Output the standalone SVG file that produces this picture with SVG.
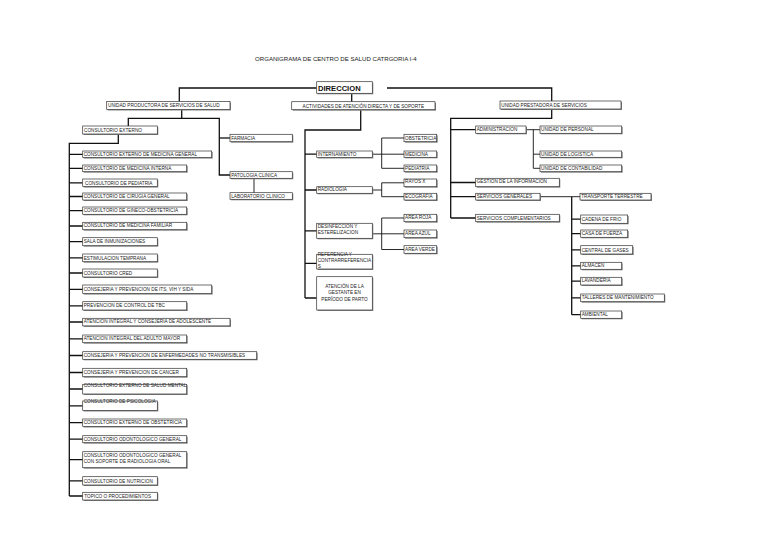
<svg xmlns="http://www.w3.org/2000/svg" width="768" height="543" viewBox="0 0 768 543">
<style>
.t{font-family:"Liberation Sans",Arial,sans-serif;font-size:4.7px;fill:#222}
.tc{text-anchor:middle}
.ttl{font-family:"Liberation Sans",Arial,sans-serif;font-size:6.1px;fill:#222}
.dir{font-family:"Liberation Sans",Arial,sans-serif;font-size:7.6px;font-weight:bold;fill:#111}
.bx{fill:#fff;stroke:#333;stroke-width:0.7}
.sh{fill:#888}
.ln{fill:none;stroke:#111;stroke-width:1.3}
.lt{fill:none;stroke:#111;stroke-width:0.9}
</style>
<rect width="768" height="543" fill="#fff"/>
<text class="ttl" x="255" y="61">ORGANIGRAMA DE CENTRO DE SALUD CATRGORIA I-4</text>

<g id="connectors">
<polyline class="ln" points="316.7,88 179.3,88 179.3,101.5"/>
<polyline class="ln" points="351.7,93.3 351.7,101.7"/>
<polyline class="ln" points="387,88 551.7,88 551.7,101"/>
<polyline class="ln" points="181.7,110 181.7,118.3"/>
<polyline class="ln" points="128.3,126 128.3,118.3 219.3,118.3 219.3,175 230,175"/>
<polyline class="ln" points="219.3,138 230,138"/>
<polyline class="lt" points="254,178.3 254,192.7"/>
<polyline class="ln" points="118.3,134 118.3,143.3 69.3,143.3 69.3,496"/>
<path class="ln" d="M69.3,154.3H82.7M69.3,168.3H82.7M69.3,182.8H82.7M69.3,196.5H82.7M69.3,210.7H82.7M69.3,226H82.7M69.3,241.7H82.7M69.3,257.8H82.7M69.3,273H82.7M69.3,289.3H82.7M69.3,305.8H82.7M69.3,322H82.7M69.3,338.8H82.7M69.3,355.5H82.7M69.3,372.5H82.7M69.3,389H82.7M69.3,405.8H82.7M69.3,422.7H82.7M69.3,439.2H82.7M69.3,459.7H82.7M69.3,480.8H82.7M69.3,496H82.7"/>
<polyline class="ln" points="360.7,110 360.7,130 305,130 305,298"/>
<path class="ln" d="M305,154.2H316.7M305,190H316.7M305,230.8H316.7M305,263.3H316.7M305,298H316.7"/>
<path class="lt" d="M372.3,154.2H404M381.7,138V168.3M381.7,138H404M381.7,168.3H404"/>
<path class="lt" d="M372.3,190H381.7M381.7,182.8V196.7M381.7,182.8H404M381.7,196.7H404"/>
<path class="lt" d="M372.3,233.8H404M381.7,218V249.5M381.7,218H404M381.7,249.5H404"/>
<polyline class="ln" points="551.7,110 551.7,118.3 450.7,118.3 450.7,218"/>
<path class="ln" d="M450.7,129.7H475.7M450.7,182.5H475.7M450.7,196.7H475.7M450.7,218H475.7"/>
<path class="lt" d="M526,129.7H540M533.3,129.7V168.3M533.3,154.2H540M533.3,168.3H540"/>
<path class="lt" d="M540,196.7H580"/>
<path class="ln" d="M571.7,196.7V314.7M571.7,219.2H580.7M571.7,233.7H580.7M571.7,249.8H580.7M571.7,265.8H580.7M571.7,281.2H580.7M571.7,297.8H580.7M571.7,314.7H580.7"/>
</g>

<g id="direccion"><rect class="sh" x="317.7" y="82.7" width="55.6" height="11.6"/><rect class="bx" x="316.7" y="81.7" width="55.6" height="11.6"/><text class="dir" x="318" y="90.8">DIRECCION</text></g>

<g id="unidad-productora"><rect class="sh" x="107.7" y="102.5" width="123.3" height="8"/><rect class="bx" x="106.7" y="101.5" width="123.3" height="8"/><text class="t" x="108" y="107.4">UNIDAD PRODUCTORA DE SERVICIOS DE SALUD</text></g>
<g id="actividades"><rect class="sh" x="292.7" y="102.7" width="143.3" height="8"/><rect class="bx" x="291.7" y="101.7" width="143.3" height="8"/><text class="t tc" x="363.3" y="107.6">ACTIVIDADES DE ATENCIÓN DIRECTA Y DE SOPORTE</text></g>
<g id="unidad-prestadora"><rect class="sh" x="501" y="102" width="121" height="8"/><rect class="bx" x="500" y="101" width="121" height="8"/><text class="t" x="501.3" y="107">UNIDAD PRESTADORA DE SERVICIOS</text></g>

<g id="consultorio-externo"><rect class="sh" x="83.7" y="127" width="74.6" height="8"/><rect class="bx" x="82.7" y="126" width="74.6" height="8"/><text class="t" x="84" y="132">CONSULTORIO EXTERNO</text></g>
<g id="farmacia"><rect class="sh" x="231" y="135.3" width="62.3" height="7.4"/><rect class="bx" x="230" y="134.3" width="62.3" height="7.4"/><text class="t" x="231.2" y="139.8">FARMACIA</text></g>
<g id="patologia"><rect class="sh" x="231" y="172.7" width="62.3" height="6.6"/><rect class="bx" x="230" y="171.7" width="62.3" height="6.6"/><text class="t" x="231.2" y="176.8">PATOLOGIA CLINICA</text></g>
<g id="laboratorio"><rect class="sh" x="231" y="193.7" width="62.3" height="6.6"/><rect class="bx" x="230" y="192.7" width="62.3" height="6.6"/><text class="t" x="231.2" y="197.8">LABORATORIO CLINICO</text></g>

<g id="c1"><rect class="sh" x="83.7" y="152" width="129" height="6.6"/><rect class="bx" x="82.7" y="151" width="129" height="6.6"/><text class="t" x="83.7" y="156">CONSULTORIO EXTERNO DE MEDICINA GENERAL</text></g>
<g id="c2"><rect class="sh" x="83.7" y="166" width="104" height="6.7"/><rect class="bx" x="82.7" y="165" width="104" height="6.7"/><text class="t" x="83.7" y="170">CONSULTORIO DE MEDICINA INTERNA</text></g>
<g id="c3"><rect class="sh" x="83.7" y="180" width="74.6" height="7.6"/><rect class="bx" x="82.7" y="179" width="74.6" height="7.6"/><text class="t" x="85" y="184.6">CONSULTORIO DE PEDIATRIA</text></g>
<g id="c4"><rect class="sh" x="83.7" y="194" width="104" height="7"/><rect class="bx" x="82.7" y="193" width="104" height="7"/><text class="t" x="83.7" y="198.2">CONSULTORIO DE CIRUGIA GENERAL</text></g>
<g id="c5"><rect class="sh" x="83.7" y="208" width="104" height="7.3"/><rect class="bx" x="82.7" y="207" width="104" height="7.3"/><text class="t" x="83.7" y="212.4">CONSULTORIO DE GINECO-OBSTETRICIA</text></g>
<g id="c6"><rect class="sh" x="83.7" y="223.3" width="104" height="7.4"/><rect class="bx" x="82.7" y="222.3" width="104" height="7.4"/><text class="t" x="83.7" y="227">CONSULTORIO DE MEDICINA FAMILIAR</text></g>
<g id="c7"><rect class="sh" x="83.7" y="238.7" width="74.6" height="8"/><rect class="bx" x="82.7" y="237.7" width="74.6" height="8"/><text class="t" x="83.7" y="243.4">SALA DE INMUNIZACIONES</text></g>
<g id="c8"><rect class="sh" x="83.7" y="255" width="74.6" height="7.7"/><rect class="bx" x="82.7" y="254" width="74.6" height="7.7"/><text class="t" x="83.7" y="259.5">ESTIMULACION TEMPRANA</text></g>
<g id="c9"><rect class="sh" x="83.7" y="270" width="74.6" height="8"/><rect class="bx" x="82.7" y="269" width="74.6" height="8"/><text class="t" x="83.7" y="274.6">CONSULTORIO CRED</text></g>
<g id="c10"><rect class="sh" x="83.7" y="286" width="129" height="8.6"/><rect class="bx" x="82.7" y="285" width="129" height="8.6"/><text class="t" x="83.7" y="290.8">CONSEJERIA Y PREVENCION DE ITS, VIH Y SIDA</text></g>
<g id="c11"><rect class="sh" x="83.7" y="302.7" width="104" height="8.3"/><rect class="bx" x="82.7" y="301.7" width="104" height="8.3"/><text class="t" x="83.7" y="307.4">PREVENCION DE CONTROL DE TBC</text></g>
<g id="c12"><rect class="sh" x="83.7" y="319.3" width="147.3" height="7.6"/><rect class="bx" x="82.7" y="318.3" width="147.3" height="7.6"/><text class="t" x="83.7" y="323.4">ATENCION INTEGRAL Y CONSEJERIA DE ADOLESCENTE</text></g>
<g id="c13"><rect class="sh" x="83.7" y="336" width="104" height="7.7"/><rect class="bx" x="82.7" y="335" width="104" height="7.7"/><text class="t" x="83.7" y="340.2">ATENCION INTEGRAL DEL ADULTO MAYOR</text></g>
<g id="c14"><rect class="sh" x="83.7" y="352.7" width="174" height="7.6"/><rect class="bx" x="82.7" y="351.7" width="174" height="7.6"/><text class="t" x="83.7" y="357">CONSEJERIA Y PREVENCION DE ENFERMEDADES NO TRANSMISIBLES</text></g>
<g id="c15"><rect class="sh" x="83.7" y="369.3" width="104" height="8.4"/><rect class="bx" x="82.7" y="368.3" width="104" height="8.4"/><text class="t" x="83.7" y="373.5">CONSEJERIA Y PREVENCION DE CANCER</text></g>
<g id="c16"><rect class="sh" x="83.7" y="385.3" width="104" height="9.7"/><rect class="bx" x="82.7" y="384.3" width="104" height="9.7"/><text class="t" x="83.7" y="386.6">CONSULTORIO EXTERNO DE SALUD MENTAL</text></g>
<g id="c17"><rect class="sh" x="83.7" y="402" width="74.6" height="9.5"/><rect class="bx" x="82.7" y="401" width="74.6" height="9.5"/><text class="t" x="83.7" y="403.3">CONSULTORIO DE PSICOLOGIA</text></g>
<g id="c18"><rect class="sh" x="83.7" y="420" width="104" height="7.5"/><rect class="bx" x="82.7" y="419" width="104" height="7.5"/><text class="t" x="83.7" y="424.4">CONSULTORIO EXTERNO DE OBSTETRICIA</text></g>
<g id="c19"><rect class="sh" x="83.7" y="436.7" width="104" height="7"/><rect class="bx" x="82.7" y="435.7" width="104" height="7"/><text class="t" x="83.7" y="440.9">CONSULTORIO ODONTOLOGICO GENERAL</text></g>
<g id="c20"><rect class="sh" x="83.7" y="452.7" width="104" height="16"/><rect class="bx" x="82.7" y="451.7" width="104" height="16"/><text class="t" x="83.7" y="456.9">CONSULTORIO ODONTOLOGICO GENERAL</text><text class="t" x="83.7" y="462.9">CON SOPORTE DE RADIOLOGIA ORAL</text></g>
<g id="c21"><rect class="sh" x="83.7" y="477.7" width="74.6" height="8.3"/><rect class="bx" x="82.7" y="476.7" width="74.6" height="8.3"/><text class="t" x="83.7" y="482.6">CONSULTORIO DE NUTRICION</text></g>
<g id="c22"><rect class="sh" x="83.7" y="493.3" width="74.6" height="7.7"/><rect class="bx" x="82.7" y="492.3" width="74.6" height="7.7"/><text class="t" x="84.3" y="497.8">TOPICO O PROCEDIMIENTOS</text></g>

<g id="internamiento"><rect class="sh" x="317.7" y="152" width="55.6" height="6.5"/><rect class="bx" x="316.7" y="151" width="55.6" height="6.5"/><text class="t" x="317.7" y="156">INTERNAMIENTO</text></g>
<g id="radiologia"><rect class="sh" x="317.7" y="187.7" width="55.6" height="6.6"/><rect class="bx" x="316.7" y="186.7" width="55.6" height="6.6"/><text class="t" x="317.7" y="191.4">RADIOLOGIA</text></g>
<g id="desinfeccion"><rect class="sh" x="317.7" y="224.3" width="55.6" height="15"/><rect class="bx" x="316.7" y="223.3" width="55.6" height="15"/><text class="t" x="317.7" y="227.7">DESINFECCION Y</text><text class="t" x="317.7" y="233.7">ESTERELIZACION</text></g>
<g id="referencia"><rect class="sh" x="317.7" y="255.3" width="55.6" height="14.7"/><rect class="bx" x="316.7" y="254.3" width="55.6" height="14.7"/><text class="t" x="317.7" y="255.8">REFERENCIA Y</text><text class="t" x="317.7" y="261.6">CONTRARREFERENCIA</text><text class="t" x="317.7" y="268.2">S</text></g>
<g id="atencion-gestante"><rect class="sh" x="317.7" y="277.7" width="55.6" height="33.3"/><rect class="bx" x="316.7" y="276.7" width="55.6" height="33.3"/><text class="t tc" x="344.5" y="287.5">ATENCIÓN DE LA</text><text class="t tc" x="344.5" y="294">GESTANTE EN</text><text class="t tc" x="344.5" y="300.7">PERÍODO DE PARTO</text></g>

<g id="obstetricia"><rect class="sh" x="405" y="135.3" width="32.7" height="7.4"/><rect class="bx" x="404" y="134.3" width="32.7" height="7.4"/><text class="t" x="405" y="139.6">OBSTETRICIA</text></g>
<g id="medicina"><rect class="sh" x="405" y="152" width="32.7" height="6.3"/><rect class="bx" x="404" y="151" width="32.7" height="6.3"/><text class="t" x="405" y="155.9">MEDICINA</text></g>
<g id="pediatria"><rect class="sh" x="405" y="166" width="32.7" height="6.7"/><rect class="bx" x="404" y="165" width="32.7" height="6.7"/><text class="t" x="405" y="170">PEDIATRIA</text></g>
<g id="rayos-x"><rect class="sh" x="405" y="180" width="32.7" height="7.7"/><rect class="bx" x="404" y="179" width="32.7" height="7.7"/><text class="t" x="405" y="183.4">RAYOS X</text></g>
<g id="ecografia"><rect class="sh" x="405" y="194.3" width="32.7" height="6.7"/><rect class="bx" x="404" y="193.3" width="32.7" height="6.7"/><text class="t" x="405" y="198.3">ECOGRAFIA</text></g>
<g id="area-roja"><rect class="sh" x="405" y="215.3" width="32.7" height="7.4"/><rect class="bx" x="404" y="214.3" width="32.7" height="7.4"/><text class="t" x="405" y="219">AREA ROJA</text></g>
<g id="area-azul"><rect class="sh" x="405" y="231" width="32.7" height="7.7"/><rect class="bx" x="404" y="230" width="32.7" height="7.7"/><text class="t" x="405" y="235">AREA AZUL</text></g>
<g id="area-verde"><rect class="sh" x="405" y="246.7" width="32.7" height="7.6"/><rect class="bx" x="404" y="245.7" width="32.7" height="7.6"/><text class="t" x="405" y="250.6">AREA VERDE</text></g>

<g id="administracion"><rect class="sh" x="476.7" y="127" width="50.3" height="7.3"/><rect class="bx" x="475.7" y="126" width="50.3" height="7.3"/><text class="t" x="476.7" y="131.1">ADMINISTRACION</text></g>
<g id="unidad-personal"><rect class="sh" x="541" y="127" width="81.7" height="7.3"/><rect class="bx" x="540" y="126" width="81.7" height="7.3"/><text class="t" x="541" y="131.1">UNIDAD DE PERSONAL</text></g>
<g id="unidad-logistica"><rect class="sh" x="541" y="152" width="81.7" height="6.3"/><rect class="bx" x="540" y="151" width="81.7" height="6.3"/><text class="t" x="541" y="155.8">UNIDAD DE LOGISTICA</text></g>
<g id="unidad-contabilidad"><rect class="sh" x="541" y="166" width="81.7" height="6.7"/><rect class="bx" x="540" y="165" width="81.7" height="6.7"/><text class="t" x="541" y="169.6">UNIDAD DE CONTABILIDAD</text></g>
<g id="gestion"><rect class="sh" x="476.7" y="179.3" width="83.6" height="8.4"/><rect class="bx" x="475.7" y="178.3" width="83.6" height="8.4"/><text class="t" x="476.7" y="183.3">GESTION DE LA INFORMACION</text></g>
<g id="servicios-generales"><rect class="sh" x="476.7" y="194.3" width="64.3" height="6.7"/><rect class="bx" x="475.7" y="193.3" width="64.3" height="6.7"/><text class="t" x="476.7" y="198">SERVICIOS GENERALES</text></g>
<g id="servicios-complementarios"><rect class="sh" x="476.7" y="215.3" width="83.6" height="7.4"/><rect class="bx" x="475.7" y="214.3" width="83.6" height="7.4"/><text class="t" x="476.7" y="219.6">SERVICIOS COMPLEMENTARIOS</text></g>
<g id="transporte"><rect class="sh" x="581" y="194.3" width="71" height="6.7"/><rect class="bx" x="580" y="193.3" width="71" height="6.7"/><text class="t" x="581.2" y="198.3">TRANSPORTE TERRESTRE</text></g>
<g id="cadena-frio"><rect class="sh" x="581.7" y="216" width="47" height="8.3"/><rect class="bx" x="580.7" y="215" width="47" height="8.3"/><text class="t" x="581.7" y="220.5">CADENA DE FRIO</text></g>
<g id="casa-fuerza"><rect class="sh" x="581.7" y="231" width="47" height="7.3"/><rect class="bx" x="580.7" y="230" width="47" height="7.3"/><text class="t" x="581.7" y="235">CASA DE FUERZA</text></g>
<g id="central-gases"><rect class="sh" x="581.7" y="246.7" width="52" height="8.3"/><rect class="bx" x="580.7" y="245.7" width="52" height="8.3"/><text class="t" x="581.7" y="251.5">CENTRAL DE GASES</text></g>
<g id="almacen"><rect class="sh" x="581.7" y="263.3" width="41" height="7"/><rect class="bx" x="580.7" y="262.3" width="41" height="7"/><text class="t" x="581.7" y="266.8">ALMACEN</text></g>
<g id="lavanderia"><rect class="sh" x="581.7" y="278.3" width="41" height="7.7"/><rect class="bx" x="580.7" y="277.3" width="41" height="7.7"/><text class="t" x="581.7" y="282.3">LAVANDERIA</text></g>
<g id="talleres"><rect class="sh" x="581.7" y="295" width="83.6" height="7.7"/><rect class="bx" x="580.7" y="294" width="83.6" height="7.7"/><text class="t" x="581.7" y="299.4">TALLERES DE MANTENIMIENTO</text></g>
<g id="ambiental"><rect class="sh" x="581.7" y="312" width="41" height="7.3"/><rect class="bx" x="580.7" y="311" width="41" height="7.3"/><text class="t" x="581.7" y="316.3">AMBIENTAL</text></g>
</svg>
